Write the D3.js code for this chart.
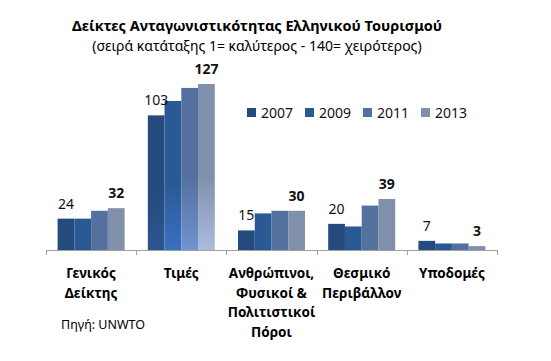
<!DOCTYPE html>
<html>
<head>
<meta charset="utf-8">
<script src="https://cdn.jsdelivr.net/npm/d3@7"></script>
<style>
  body { margin: 0; background: #fff; }
  svg { font-family: "Noto Sans", "Open Sans", sans-serif; }
</style>
</head>
<body>
<svg id="chart" width="551" height="361"></svg>
<script>
const categories = [
  ['Γενικός', 'Δείκτης'],
  ['Τιμές'],
  ['Ανθρώπινοι,', 'Φυσικοί &', 'Πολιτιστικοί', 'Πόροι'],
  ['Θεσμικό', 'Περιβάλλον'],
  ['Υποδομές']
];
const years = ['2007', '2009', '2011', '2013'];
const v2007 = [24, 103, 15, 20, 7];
const v2009 = [24, 114, 28, 18, 5];
const v2011 = [30, 124, 30, 34, 5];
const v2013 = [32, 127, 30, 39, 3];
const colors = ['#254a7c', '#2a5a94', '#53709e', '#8090aa'];
const glow = ['#2d5690', '#3a70c0', '#7094d0', '#aabbe0'];

const series = [v2007, v2009, v2011, v2013];

const svg = d3.select('svg#chart'),
  base = 250;

const x = d3.scaleBand().domain(d3.range(categories.length)).range([46, 497]);
const inner = d3.scaleBand().domain(years).range([0, 67]);
const y = d3.scaleLinear().domain([0, 140]).range([base, base - 183]);

// gradients for the "Τιμές" group
const defs = svg.append('defs');
years.forEach((yr, i) => {
  const g = defs.append('linearGradient')
    .attr('id', 'glow' + i)
    .attr('x1', 0).attr('y1', 0).attr('x2', 0).attr('y2', 1);
  g.append('stop').attr('offset', '0%').attr('stop-color', colors[i]);
  g.append('stop').attr('offset', '55%').attr('stop-color', colors[i]);
  g.append('stop').attr('offset', '100%').attr('stop-color', glow[i]);
});

// title
svg.append('text')
  .attr('x', 257).attr('y', 31)
  .attr('text-anchor', 'middle')
  .style('font-weight', 'bold').style('font-size', '14.5px')
  .text('Δείκτες Ανταγωνιστικότητας Ελληνικού Τουρισμού');
svg.append('text')
  .attr('x', 257).attr('y', 51)
  .attr('text-anchor', 'middle')
  .style('font-size', '14px')
  .text('(σειρά κατάταξης 1= καλύτερος - 140= χειρότερος)');

// bars
const groups = svg.selectAll('g.cat')
  .data(categories)
  .enter()
  .append('g')
  .attr('class', 'cat')
  .attr('transform', (d, i) => `translate(${x(i) + (x.bandwidth() - 67) / 2},0)`);

groups.each(function (d, ci) {
  d3.select(this).selectAll('rect')
    .data(series.map((s, si) => ({yr: years[si], si: si, v: s[ci]})))
    .enter()
    .append('rect')
    .attr('x', e => inner(e.yr))
    .attr('y', e => y(e.v))
    .attr('width', inner.bandwidth())
    .attr('height', e => base - y(e.v))
    .style('fill', e => ci === 1 ? `url(#glow${e.si})` : colors[e.si]);

  // value labels: first and last year
  [0, 3].forEach(si => {
    d3.select(this).append('text')
      .attr('x', inner(years[si]) + inner.bandwidth() / 2)
      .attr('y', y(series[si][ci]) - 10)
      .attr('text-anchor', 'middle')
      .style('font-size', '14px')
      .style('font-weight', si === 3 ? 'bold' : 'normal')
      .style('fill', '#111')
      .text(series[si][ci]);
  });
});

// axis
const axis = svg.append('g').attr('class', 'axis');
axis.append('line')
  .attr('x1', 46).attr('x2', 497).attr('y1', base + 0.5).attr('y2', base + 0.5)
  .attr('stroke', '#a0a0a0');
d3.range(categories.length + 1).forEach(i => {
  const xx = i < categories.length ? x(i) : x(i - 1) + x.bandwidth();
  axis.append('line')
    .attr('x1', Math.round(xx) + 0.5).attr('x2', Math.round(xx) + 0.5)
    .attr('y1', base).attr('y2', base + 5)
    .attr('stroke', '#a0a0a0');
});

// category labels
svg.selectAll('text.cat')
  .data(categories)
  .enter()
  .append('text')
  .attr('class', 'cat')
  .attr('x', (d, i) => x(i) + x.bandwidth() / 2)
  .attr('y', 278)
  .attr('text-anchor', 'middle')
  .style('font-weight', 'bold').style('font-size', '13.5px')
  .each(function (d) {
    d3.select(this).selectAll('tspan')
      .data(d)
      .enter()
      .append('tspan')
      .attr('x', d3.select(this).attr('x'))
      .attr('dy', (t, j) => j === 0 ? 0 : 19.5)
      .text(t => t);
  });

// legend
const legend = svg.append('g').attr('transform', 'translate(247,108)');
years.forEach((yr, i) => {
  const item = legend.append('g').attr('transform', `translate(${i * 58},0)`);
  item.append('rect').attr('width', 9).attr('height', 9).style('fill', colors[i]);
  item.append('text').attr('x', 14).attr('y', 10)
    .style('font-size', '14px').style('fill', '#111').text(yr);
});

// source
svg.append('text')
  .attr('x', 61).attr('y', 329)
  .style('font-size', '12.5px')
  .text('Πηγή: UNWTO');
</script>
</body>
</html>
